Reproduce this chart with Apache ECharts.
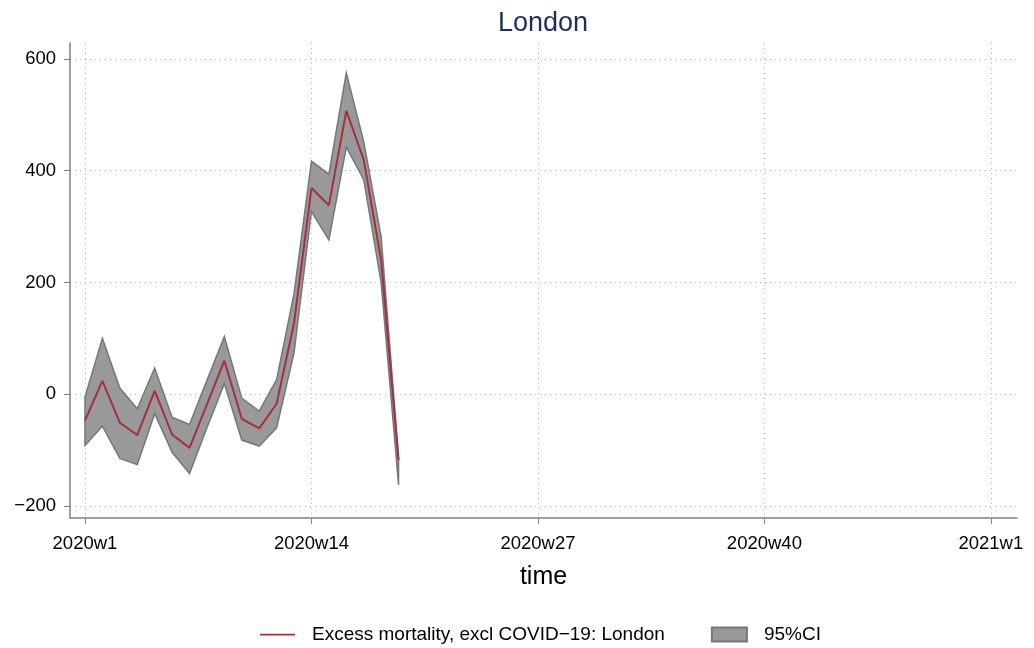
<!DOCTYPE html>
<html>
<head>
<meta charset="utf-8">
<script src="https://cdn.jsdelivr.net/npm/echarts@6/dist/echarts.min.js"></script>
<style>
    html, body { margin: 0; padding: 0; background: #fff; }
</style>
</head>
<body>
<div id="main" style="width:1034px;height:648px;"></div>
<script type="text/javascript">
    // week index, 0 = 2020w1
    var weeks = [0, 1, 2, 3, 4, 5, 6, 7, 8, 9, 10, 11, 12, 13, 14, 15, 16, 17, 18];
    var excess = [-47, 24, -51, -73, 6, -72, -96, -18, 60, -44, -61, -17, 127, 369, 338, 507, 420, 240, -118];
    var ciUpper = [-5, 100, 11, -26, 47, -41, -54, 25, 103, -7, -30, 26, 180, 417, 394, 575, 452, 282, -113];
    var ciLower = [-92, -57, -115, -126, -35, -104, -142, -60, 19, -82, -93, -60, 74, 327, 276, 442, 384, 200, -162];
    var xTicks = [0, 13, 26, 39, 52];
    var yTicks = [-200, 0, 200, 400, 600];

    function weekLabel(i) {
        var y = 2020 + Math.floor(i / 52);
        return y + 'w' + (i % 52 + 1);
    }

    var font = 'Liberation Sans, Arial, sans-serif';
    var dotted = { show: true, lineStyle: { color: '#b8b8b8', type: [1, 4], width: 1 } };
    var lineName = 'Excess mortality, excl COVID\u221219: London';

    // band polygon: upper edge forward, lower edge backward
    function renderBand(params, api) {
        if (params.dataIndex !== 0) return;
        var pts = [];
        for (var i = 0; i < weeks.length; i++) pts.push(api.coord([weeks[i], ciUpper[i]]));
        for (var j = weeks.length - 1; j >= 0; j--) pts.push(api.coord([weeks[j], ciLower[j]]));
        return {
            type: 'polygon',
            shape: { points: pts },
            style: { fill: '#999999', stroke: '#777777', lineWidth: 1.5, lineJoin: 'miter' }
        };
    }

    var myChart = echarts.init(document.getElementById('main'));
    myChart.setOption({
        animation: false,
        textStyle: { fontFamily: font },
        title: {
            text: 'London',
            left: 538,
            textAlign: 'center',
            top: 5,
            textStyle: { color: '#1f2d5c', fontSize: 27, fontWeight: 'normal', fontFamily: font }
        },
        grid: { left: 70, right: 17, top: 43, bottom: 130 },
        legend: {
            left: 255,
            top: 620,
            itemGap: 46,
            itemWidth: 35,
            itemHeight: 14,
            textStyle: { fontSize: 19, color: '#000', fontFamily: font, padding: [0, 0, 0, 12] },
            data: [
                { name: lineName, icon: 'path://M0 0 H120 V6 H0 Z' },
                { name: '95%CI', icon: 'rect' }
            ]
        },
        xAxis: {
            type: 'value',
            min: -0.86,
            max: 53.5,
            name: 'time',
            nameLocation: 'middle',
            nameGap: 47,
            nameTextStyle: { fontSize: 25, color: '#000', fontFamily: font },
            axisLine: { show: true, onZero: false, lineStyle: { color: '#808080', width: 1.5 } },
            axisTick: { show: true, length: 6, lineStyle: { color: '#808080' }, customValues: xTicks },
            axisLabel: {
                fontSize: 18.5, color: '#000', margin: 16,
                customValues: xTicks,
                formatter: function (v) { return weekLabel(v); }
            },
            splitLine: dotted
        },
        yAxis: {
            type: 'value',
            min: -221.5,
            max: 628.6,
            axisLine: { show: true, onZero: false, lineStyle: { color: '#808080', width: 1.5 } },
            axisTick: { show: true, length: 6, lineStyle: { color: '#808080' }, customValues: yTicks },
            axisLabel: {
                fontSize: 18.5, color: '#000', margin: 14,
                customValues: yTicks,
                formatter: function (v) { return v < 0 ? '\u2212' + (-v) : '' + v; }
            },
            splitLine: dotted
        },
        series: [
            {
                name: '95%CI',
                type: 'custom',
                renderItem: renderBand,
                itemStyle: { color: '#999999', borderColor: '#777777', borderWidth: 1.5 },
                data: weeks.map(function (w, i) { return [w, ciLower[i], ciUpper[i]]; }),
                encode: { x: 0, y: [1, 2] },
                z: 2
            },
            {
                name: lineName,
                type: 'line',
                symbol: 'none',
                lineStyle: { color: '#a3303c', width: 2 },
                itemStyle: { color: '#a3303c' },
                data: weeks.map(function (w, i) { return [w, excess[i]]; }),
                z: 3
            }
        ]
    });
</script>
</body>
</html>
